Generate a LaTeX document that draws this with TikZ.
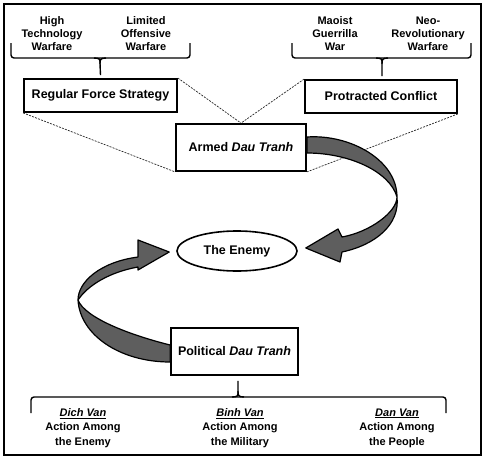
\documentclass[tikz,border=0pt]{standalone}
\usepackage{fontspec}
\setmainfont{Liberation Sans}
\usetikzlibrary{shapes.geometric}
\definecolor{ribbongray}{gray}{0.37}

\begin{document}
\begin{tikzpicture}[x=1pt,y=-1pt]
\tikzstyle{every node}+=[inner sep=0pt]
\tikzstyle{levelbox}=[draw, line width=1.8pt, fill=white, font=\fontsize{12.5}{15}\selectfont\bfseries]
\tikzstyle{smalltext}=[align=center, font=\fontsize{11}{13}\selectfont\bfseries]
\tikzstyle{vantext}=[align=center, font=\fontsize{11}{14.5}\selectfont\bfseries]
\tikzstyle{guide}=[draw=black!85, line width=0.7pt, dash pattern=on 2pt off 1.2pt]
\tikzstyle{bracket}=[draw, line width=1.4pt, rounded corners=3pt]
\tikzstyle{ribbon}=[fill=ribbongray, draw=black, line width=1.2pt, line join=round]
\useasboundingbox (0,0) rectangle (487,458);
\draw [line width=1.8pt] (4,4) rectangle (481,455);
% top labels
\node [smalltext] (htw) at (52,34) {High\\Technology\\Warfare};
\node [smalltext] (low) at (146,34) {Limited\\Offensive\\Warfare};
\node [smalltext] (mgw) at (335,34) {Maoist\\Guerrilla\\War};
\node [smalltext] (nrw) at (428,34) {Neo-\\Revolutionary\\Warfare};
% boxes
\node [levelbox, minimum width=153pt, minimum height=33pt] (rfs) at (100.5,95.5) {Regular Force Strategy};
\node [levelbox, minimum width=152pt, minimum height=33pt] (pc) at (381,96.5) {Protracted Conflict};
\node [levelbox, minimum width=130pt, minimum height=47pt] (armed) at (241,147.5) {Armed \textit{Dau Tranh}};
\node [levelbox, minimum width=127pt, minimum height=47pt] (political) at (234.5,351.5) {Political \textit{Dau Tranh}};
\node [draw, ellipse, line width=1.6pt, minimum width=120pt, minimum height=40pt, font=\fontsize{12.5}{15}\selectfont\bfseries] (enemy) at (237,251) {The Enemy};
% bottom labels
\node [vantext] (dich) at (83,428) {\underline{\textit{Dich Van}}\\Action Among\\the Enemy};
\node [vantext] (binh) at (240,428) {\underline{\textit{Binh Van}}\\Action Among\\the Military};
\node [vantext] (dan) at (397,428) {\underline{\textit{Dan Van}}\\Action Among\\the People};
% braces
\draw [bracket] (11,43) -- (11,58) -- (190,58) -- (190,43);
\draw [bracket] (94,58) .. controls (100,58) and (100,60) .. (100,64) -- ([yshift=3pt]rfs.north);
\draw [bracket] (106,58) .. controls (100,58) and (100,60) .. (100,64);
\draw [bracket] (292,43) -- (292,58) -- (471,58) -- (471,43);
\draw [bracket] (376,58) .. controls (382,58) and (382,60) .. (382,64) -- ([shift={(1pt,3pt)}]pc.north);
\draw [bracket] (388,58) .. controls (382,58) and (382,60) .. (382,64);
\draw [bracket] (31,413) -- (31,397) -- (446,397) -- (446,413);
\draw [bracket] (232,397) .. controls (238,397) and (238,395) .. (238,391) -- ([shift={(3.5pt,-5pt)}]political.south);
\draw [bracket] (244,397) .. controls (238,397) and (238,395) .. (238,391);
% guide lines
\draw [guide] (rfs.north east) -- (armed.north);
\draw [guide] (rfs.south west) -- (armed.south west);
\draw [guide] (pc.north west) -- (armed.north);
\draw [guide] (pc.south east) -- (armed.south east);
% ribbons
\filldraw [ribbon] ([yshift=10.5pt]armed.east) .. controls (350,134) and (397,160) .. (397,197)
  .. controls (397,212) and (370,232) .. (342,237) -- (338,229) -- ([shift={(8pt,3pt)}]enemy.east)
  -- (340,262) -- (342,252) .. controls (375,245) and (400,225) .. (397,197)
  .. controls (390,172) and (350,153) .. ([yshift=-5.5pt]armed.east) -- cycle;
\filldraw [ribbon] ([yshift=6.5pt]political.west) .. controls (130,335) and (85,318) .. (78,300)
  .. controls (78,282) and (100,262) .. (138,257) -- (138,240) -- ([shift={(-7pt,-1pt)}]enemy.west)
  -- (138,270) -- (138,267) .. controls (110,272) and (88,285) .. (78,300)
  .. controls (80,335) and (120,362) .. ([yshift=-10.5pt]political.west) -- cycle;
\end{tikzpicture}
\end{document}
